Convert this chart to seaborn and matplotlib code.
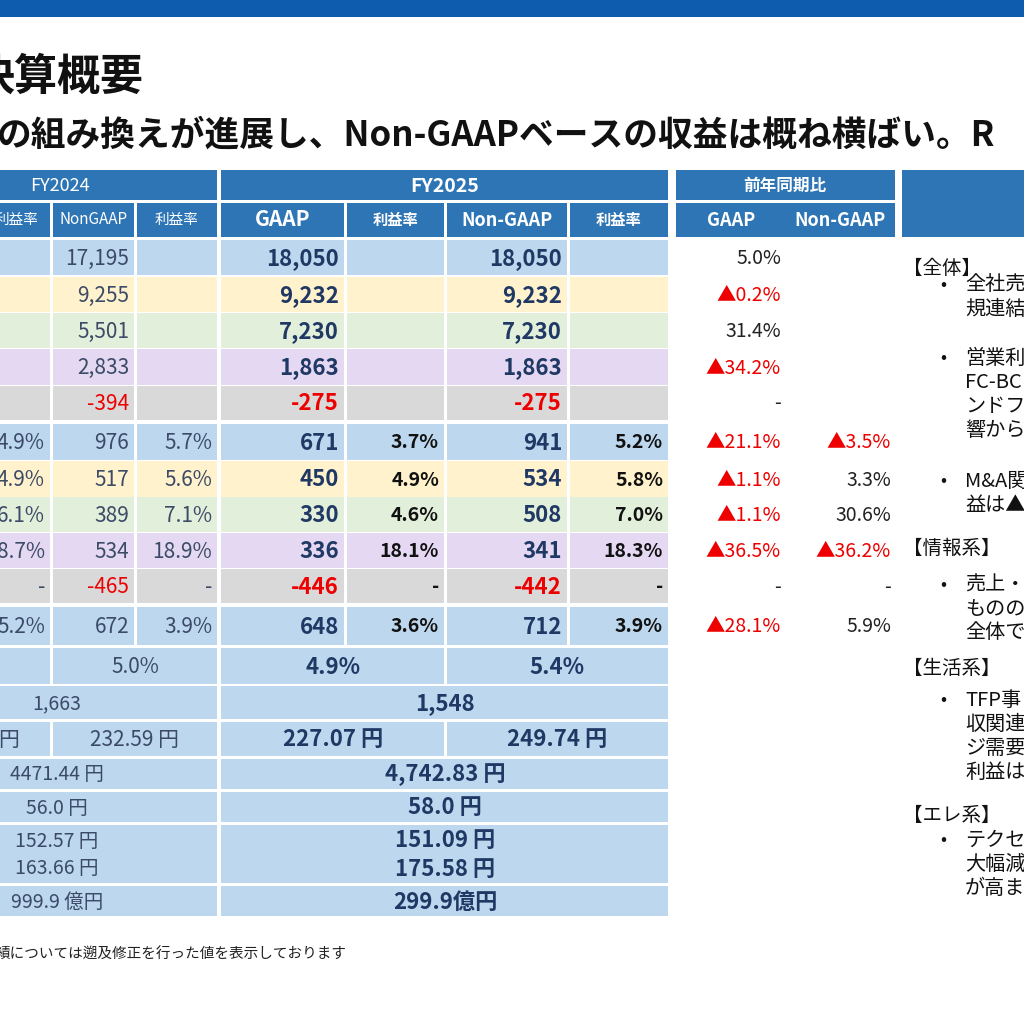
import matplotlib
matplotlib.use("Agg")
import matplotlib.pyplot as plt
from matplotlib.patches import Rectangle
import seaborn as sns

sns.set_theme(style="white")
plt.rcParams['font.family'] = ['Noto Sans CJK JP', 'DejaVu Sans']

# ---------------- data ----------------
fy24_margin_gaap = ["", "", "", "", "", "4.9%", "4.9%", "6.1%", "8.7%", "-", "5.2%"]
fy24_nongaap = ["17,195", "9,255", "5,501", "2,833", "-394", "976", "517", "389", "534", "-465", "672"]
fy24_margin_ng = ["", "", "", "", "", "5.7%", "5.6%", "7.1%", "18.9%", "-", "3.9%"]
fy25_gaap = ["18,050", "9,232", "7,230", "1,863", "-275", "671", "450", "330", "336", "-446", "648"]
fy25_margin_gaap = ["", "", "", "", "", "3.7%", "4.9%", "4.6%", "18.1%", "-", "3.6%"]
fy25_nongaap = ["18,050", "9,232", "7,230", "1,863", "-275", "941", "534", "508", "341", "-442", "712"]
fy25_margin_ng = ["", "", "", "", "", "5.2%", "5.8%", "7.0%", "18.3%", "-", "3.9%"]
yoy_gaap = ["5.0%", "▲0.2%", "31.4%", "▲34.2%", "-", "▲21.1%", "▲1.1%", "▲1.1%", "▲36.5%", "-", "▲28.1%"]
yoy_nongaap = ["", "", "", "", "", "▲3.5%", "3.3%", "30.6%", "▲36.2%", "-", "5.9%"]
row_kind = ["b", "y", "g", "p", "k", "b", "y", "g", "p", "k", "b"]

summary_fy24 = ["5.0%", "1,663", "232.59 円", "4471.44 円", "56.0 円", "152.57 円\n163.66 円", "999.9 億円"]
summary_fy25 = [("4.9%", "5.4%"), "1,548", ("227.07 円", "249.74 円"), "4,742.83 円", "58.0 円",
                "151.09 円\n175.58 円", "299.9億円"]

title = "決算概要"
subtitle = "の組み換えが進展し、Non-GAAPベースの収益は概ね横ばい。R"
footnote = "績については遡及修正を行った値を表示しております"
comment_heads = ["【全体】", "【情報系】", "【生活系】", "【エレ系】"]
comment_head_y = [268, 548, 668, 815]
comment_bullets = [["全社売", "規連結"], ["営業利", "FC-BC", "ンドファ", "響から"], ["M&A関", "益は▲"],
                   ["売上・", "ものの", "全体で"], ["TFP事", "収関連", "ジ需要", "利益は"],
                   ["テクセン", "大幅減", "が高ま"]]
comment_bullet_y = [285, 358, 481, 585, 700, 840]

# ---------------- layout ----------------
fills = {"b": "#bdd7ee", "y": "#fff2cc", "g": "#e2efda", "p": "#e4d8f2", "k": "#d9d9d9"}
HDR = "#2e75b6"
NAVY = "#1f3864"
SLATE = "#3b4a66"
RED = "#ee0000"

fig = plt.figure(figsize=(10.24, 10.24), dpi=100)
ax = fig.add_axes([0, 0, 1, 1])
ax.set_xlim(0, 1024)
ax.set_ylim(1024, 0)
ax.axis("off")

def rect(x0, y0, x1, y1, c):
    ax.add_patch(Rectangle((x0, y0), x1 - x0, y1 - y0, color=c, lw=0))

def txt(x, y, s, ha="center", size=14, color="black", weight="normal", **kw):
    ax.text(x, y, s, ha=ha, va="center", fontsize=size, color=color, fontweight=weight, **kw)

rect(0, 0, 1024, 17, "#0e5cad")
txt(-28, 77, title, ha="left", size=31, weight="bold", color="#111111")
txt(-3, 135, subtitle, ha="left", size=25, weight="bold", color="#111111")

# headers
rect(0, 170, 217, 200, HDR); rect(221, 170, 668, 200, HDR); rect(676, 170, 895, 200, HDR)
rect(902, 170, 1024, 237, HDR)
cols = [(-10, 50), (53, 134), (137, 217), (221, 344), (347, 444), (447, 567), (570, 668)]
for (a, b) in cols:
    rect(a, 203, b, 237, HDR)
rect(676, 203, 895, 237, HDR)
txt(60, 186, "FY2024", size=13, color="white")
txt(445, 186, "FY2025", size=14, color="white", weight="bold")
txt(785, 186, "前年同期比", size=12, color="white", weight="bold")
hdr2 = [("利益率", 10.5, "normal"), ("NonGAAP", 11, "normal"), ("利益率", 10.5, "normal"),
        ("GAAP", 15, "bold"), ("利益率", 11, "bold"), ("Non-GAAP", 13, "bold"), ("利益率", 11, "bold")]
for (a, b), (s, fs, w) in zip(cols, hdr2):
    txt((a + b) / 2 if a >= 0 else 17, 220, s, size=fs, color="white", weight=w)
txt(731, 220, "GAAP", size=13, color="white", weight="bold")
txt(840, 220, "Non-GAAP", size=13, color="white", weight="bold")

# data rows
row_tops = [240, 277, 313, 349, 386, 424, 461, 497, 533, 569, 607]
row_bots = [275, 312, 348, 385, 420, 460, 497, 532, 568, 603, 645]
for i in range(len(fy24_nongaap)):
    y0, y1 = row_tops[i], row_bots[i]
    yc = (y0 + y1) / 2 + 1
    for (a, b) in cols:
        rect(a, y0, b, y1, fills[row_kind[i]])
    def col_txt(ci, s, color, weight, size=15):
        a, b = cols[ci]
        c = RED if s.startswith("-") and len(s) > 1 else color
        txt(b - 5, yc, s, ha="right", size=size, color=c, weight=weight)
    col_txt(0, fy24_margin_gaap[i], SLATE, "normal")
    col_txt(1, fy24_nongaap[i], SLATE, "normal")
    col_txt(2, fy24_margin_ng[i], SLATE, "normal")
    col_txt(3, fy25_gaap[i], NAVY, "bold", 16)
    col_txt(4, fy25_margin_gaap[i], "#111111", "bold", 14)
    col_txt(5, fy25_nongaap[i], NAVY, "bold", 16)
    col_txt(6, fy25_margin_ng[i], "#111111", "bold", 14)
    g = yoy_gaap[i]
    txt(781, yc, g, ha="right", size=14, color=RED if g.startswith("▲") else "#222222")
    n = yoy_nongaap[i]
    txt(891, yc, n, ha="right", size=14, color=RED if n.startswith("▲") else "#222222")

# summary rows
s_tops = [648, 686, 722, 759, 792, 825, 886]
s_bots = [684, 719, 756, 789, 822, 883, 916]
for i in range(len(summary_fy24)):
    y0, y1 = s_tops[i], s_bots[i]
    yc = (y0 + y1) / 2 + 1
    split24 = i in (0, 2)
    if split24:
        rect(0, y0, 50, y1, "#bdd7ee"); rect(53, y0, 217, y1, "#bdd7ee")
    else:
        rect(0, y0, 217, y1, "#bdd7ee")
    v = summary_fy25[i]
    if isinstance(v, tuple):
        rect(221, y0, 444, y1, "#bdd7ee"); rect(447, y0, 668, y1, "#bdd7ee")
        txt(333, yc, v[0], size=16, color=NAVY, weight="bold")
        txt(557, yc, v[1], size=16, color=NAVY, weight="bold")
    else:
        rect(221, y0, 668, y1, "#bdd7ee")
        txt(445, yc, v, size=16, color=NAVY, weight="bold", linespacing=1.3)
    s = summary_fy24[i]
    if split24:
        txt(135, yc, s, size=15, color=SLATE)
        if i == 2:
            txt(-2, yc, "円", ha="left", size=15, color=SLATE)
    else:
        txt(57, yc, s, size=14, color=SLATE, linespacing=1.4)

# right comments
for h, y in zip(comment_heads, comment_head_y):
    txt(903, y, h, ha="left", size=14, color="#111111")
for lines, y in zip(comment_bullets, comment_bullet_y):
    txt(943, y, "•", size=13, color="#111111")
    for k, line in enumerate(lines):
        txt(965, y + 24 * k, line, ha="left", size=14.5, color="#111111")

txt(-4, 955, footnote, ha="left", size=10.5, color="#222222")

fig.savefig("out.png", dpi=100)
